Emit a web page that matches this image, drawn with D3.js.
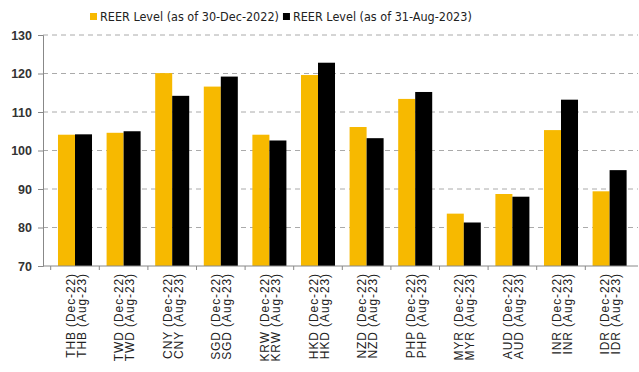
<!DOCTYPE html>
<html>
<head>
<meta charset="utf-8">
<script src="https://cdn.jsdelivr.net/npm/d3@7"></script>
<style>
  html, body { margin: 0; padding: 0; background: #fff; }
  svg { display: block; }
</style>
</head>
<body>
<svg id="chart" width="639" height="372"></svg>
<script>
// REER levels by currency
const currencies = ["THB", "TWD", "CNY", "SGD", "KRW", "HKD", "NZD", "PHP", "MYR", "AUD", "INR", "IDR"];
const reerDec22 = [104.1, 104.6, 120.1, 116.6, 104.1, 119.6, 106.1, 113.4, 83.6, 88.7, 105.3, 89.4];
const reerAug23 = [104.2, 105.0, 114.2, 119.2, 102.6, 122.8, 103.2, 115.2, 81.3, 88.0, 113.2, 94.9];
const seriesNames = ["REER Level (as of 30-Dec-2022)", "REER Level (as of 31-Aug-2023)"];
const periodTags = ["(Dec-22)", "(Aug-23)"];
const yTicks = [70, 80, 90, 100, 110, 120, 130];

const colors = ["#F7B900", "#000000"];
const series = [reerDec22, reerAug23];

const svg = d3.select("#chart");
const axisX = 43, plotRight = 638;
const x = d3.scaleBand().domain(currencies).range([50.7, 633.9]).paddingInner(0.3).paddingOuter(0.15);
const xSub = d3.scaleBand().domain([0, 1]).range([0, x.bandwidth()]);
const y = d3.scaleLinear().domain([70, 130]).range([266, 35]);

// gridlines
svg.append("g").selectAll("line").data(yTicks.slice(1)).join("line")
  .attr("x1", axisX).attr("x2", plotRight)
  .attr("y1", d => y(d)).attr("y2", d => y(d))
  .attr("stroke", "#aaa").attr("stroke-width", 1).attr("stroke-dasharray", "5,4");

// bars
const groups = svg.append("g").selectAll("g").data(currencies).join("g")
  .attr("transform", d => `translate(${x(d)},0)`);
groups.selectAll("rect").data((d, i) => series.map((s, k) => ({ k, v: s[i] }))).join("rect")
  .attr("x", d => xSub(d.k))
  .attr("width", xSub.bandwidth())
  .attr("y", d => y(d.v))
  .attr("height", d => y(70) - y(d.v))
  .attr("fill", d => colors[d.k]);

// y axis
const yAxis = d3.axisLeft(y).tickValues(yTicks).tickSize(5).tickPadding(6);
const gy = svg.append("g").attr("transform", `translate(${axisX},0)`).call(yAxis);
gy.select(".domain").attr("stroke", "#888");
gy.selectAll(".tick line").attr("stroke", "#888");
gy.selectAll(".tick text").attr("font-family", "Liberation Sans, Arial, sans-serif")
  .attr("font-size", 12.5).attr("fill", "#333").attr("font-weight", "bold");

// x axis baseline with category separators
const gx = svg.append("g");
gx.append("line").attr("x1", axisX).attr("x2", plotRight).attr("y1", y(70)).attr("y2", y(70))
  .attr("stroke", "#888");
const step = x.step();
const bounds = currencies.map(c => x(c) - step * x.paddingInner() / 2);
gx.selectAll("line.sep").data(bounds).join("line").attr("class", "sep")
  .attr("x1", d => d).attr("x2", d => d).attr("y1", y(70)).attr("y2", y(70) + 4)
  .attr("stroke", "#888");

// category labels, two rotated lines per currency
currencies.forEach(c => {
  const cx = x(c) + x.bandwidth() / 2;
  periodTags.forEach((tag, k) => {
    svg.append("text")
      .attr("transform", `translate(${cx - 0.5 + k * 11},273) rotate(-90)`)
      .attr("text-anchor", "end")
      .attr("font-family", "Liberation Sans, Arial, sans-serif")
      .attr("font-size", 12)
      .attr("letter-spacing", 0.9)
      .attr("fill", "#222")
      .text(`${c} ${tag}`);
  });
});

// legend
const legend = svg.append("g").attr("transform", "translate(90,13)");
let lx = 0;
seriesNames.forEach((name, k) => {
  legend.append("rect").attr("x", lx).attr("y", 0).attr("width", 7).attr("height", 7).attr("fill", colors[k]);
  const t = legend.append("text").attr("x", lx + 10).attr("y", 7.5)
    .attr("font-family", "DejaVu Sans Condensed, DejaVu Sans, sans-serif")
    .attr("font-size", 12.5).attr("fill", "#222").text(name);
  lx += 10 + t.node().getComputedTextLength() + 4;
});
</script>
</body>
</html>
